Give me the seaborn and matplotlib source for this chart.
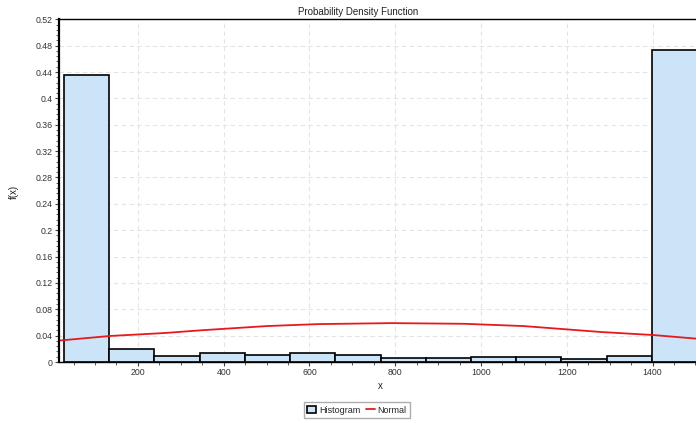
import matplotlib
matplotlib.use('Agg')
import matplotlib.pyplot as plt
from matplotlib.patches import Patch
from matplotlib.lines import Line2D
from matplotlib.ticker import MultipleLocator
import seaborn as sns

# Data
bin_edges = [27, 133, 238, 344, 449, 555, 660, 766, 871, 976, 1082, 1187, 1293, 1398, 1504]
bin_heights = [0.436, 0.020, 0.0096, 0.0132, 0.0102, 0.0132, 0.0102,
               0.006, 0.006, 0.0071, 0.0071, 0.0041, 0.0086, 0.473]
bin_centers = [(a + b) / 2 for a, b in zip(bin_edges[:-1], bin_edges[1:])]

normal_x = [16, 135, 263, 345, 500, 620, 790, 960, 1100, 1200, 1280, 1400, 1510]
normal_y = [0.0325, 0.0395, 0.044, 0.048, 0.0545, 0.0575, 0.059, 0.058, 0.0545,
            0.0495, 0.0455, 0.041, 0.035]

sns.set_theme(style="white")
plt.rcParams['font.family'] = ['Liberation Sans', 'DejaVu Sans']

fig = plt.figure(figsize=(6.96, 4.23), dpi=100)
ax = fig.add_axes([59 / 696, 61 / 423, 660 / 696, 342.7 / 423])

sns.histplot(x=bin_centers, weights=bin_heights, bins=bin_edges, stat='count',
             color='#cce4f8', edgecolor='black', linewidth=1.2, alpha=1, ax=ax)
sns.lineplot(x=normal_x, y=normal_y, color='#e8181c', linewidth=1.3, ax=ax)

ax.set_xlim(16, 1555)
ax.set_ylim(0, 0.52)
ax.xaxis.set_major_locator(MultipleLocator(200))
ax.xaxis.set_minor_locator(MultipleLocator(50))
ax.yaxis.set_minor_locator(MultipleLocator(0.008))
ax.set_yticks([0, 0.04, 0.08, 0.12, 0.16, 0.2, 0.24, 0.28, 0.32, 0.36, 0.4, 0.44, 0.48, 0.52])
ax.set_yticklabels(['0', '0.04', '0.08', '0.12', '0.16', '0.2', '0.24', '0.28', '0.32',
                    '0.36', '0.4', '0.44', '0.48', '0.52'])
ax.tick_params(axis='both', which='major', length=3, width=0.8, color='#444444',
               labelsize=6.3, labelcolor='#333333', pad=1.5, bottom=True, left=True)
ax.tick_params(axis='both', which='minor', length=2, width=0.6, color='#444444',
               bottom=True, left=True)

ax.grid(True, which='major', linestyle=(0, (4, 3)), color='#e4e4e4', linewidth=0.8)
ax.set_axisbelow(True)
for side in ['left', 'bottom', 'top']:
    ax.spines[side].set_color('black')
    ax.spines[side].set_linewidth(1.0)
ax.spines['left'].set_linewidth(1.6)
ax.spines['right'].set_visible(False)

ax.set_title('Probability Density Function', fontsize=7, color='#222222', pad=3,
             x=(358 - 59) / 660)
ax.set_xlabel('x', fontsize=7, color='#222222')
ax.xaxis.set_label_coords((380 - 59) / 660, -0.055)
ax.set_ylabel('f(x)', fontsize=7, color='#222222')
ax.yaxis.set_label_coords(-(59 - 19) / 660, (362 - 192) / 342.7)

handles = [Patch(facecolor='#cce4f8', edgecolor='black', linewidth=1.2),
           Line2D([0], [0], color='#e8181c', linewidth=1.3)]
fig.legend(handles, ['Histogram', 'Normal'], loc='center', bbox_to_anchor=(357 / 696, 1 - 410 / 423),
           ncol=2, fontsize=6.5, frameon=True, fancybox=False, edgecolor='#999999',
           handlelength=1.0, handletextpad=0.3, columnspacing=0.6, borderpad=0.35)

fig.savefig('out.png', dpi=100)
